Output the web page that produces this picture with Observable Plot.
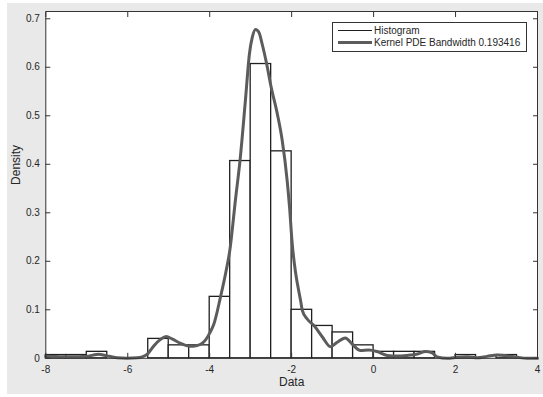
<!DOCTYPE html>
<html><head><meta charset="utf-8">
<script src="https://cdn.jsdelivr.net/npm/d3@7"></script>
<script src="https://cdn.jsdelivr.net/npm/@observablehq/plot@0.6"></script>
<style>
html,body{margin:0;padding:0;background:#fff;}
#wrap{position:relative;width:543px;height:397px;overflow:hidden;}
#bg{position:absolute;left:7px;top:3px;width:536px;height:391px;background:#e9e9e9;}
#chart{position:absolute;left:0;top:0;}
#legend{position:absolute;left:331.5px;top:22px;width:193px;height:28px;border:1px solid #333;background:#fff;font:10px "Liberation Sans",Arial,sans-serif;color:#262626;}
.ln{position:absolute;left:5px;width:34.5px;}
.lt{position:absolute;left:41.5px;line-height:12px;white-space:nowrap;}
</style>
</head><body>
<div id="wrap">
  <div id="bg"></div>
  <div id="chart"></div>
  <div id="legend">
    <div class="ln" style="top:7px;height:1.3px;background:#1f1f1f;"></div>
    <div class="lt" style="top:1.7px;">Histogram</div>
    <div class="ln" style="top:18px;height:3px;background:#5c5c5c;"></div>
    <div class="lt" style="top:13.5px;">Kernel PDE Bandwidth 0.193416</div>
  </div>
</div>
<script>
// Histogram bins (bin edges and density)
const binLo = [-8, -7.5, -7, -6.5, -6, -5.5, -5, -4.5, -4, -3.5, -3, -2.5, -2, -1.5, -1, -0.5, 0, 0.5, 1, 1.5, 2, 2.5, 3];
const binHi = [-7.5, -7, -6.5, -6, -5.5, -5, -4.5, -4, -3.5, -3, -2.5, -2, -1.5, -1, -0.5, 0, 0.5, 1, 1.5, 2, 2.5, 3, 3.5];
const binDensity = [0.0067, 0.0067, 0.0133, 0, 0, 0.04, 0.0267, 0.0267, 0.1267, 0.4067, 0.6067, 0.4267, 0.1, 0.0667, 0.0533, 0.0267, 0.0133, 0.0133, 0.0133, 0, 0.0067, 0, 0.0067];

// Kernel density curve
const kdeX = [-8.0, -7.75, -7.48, -7.2, -6.99, -6.85, -6.71, -6.6, -6.5, -6.26, -6.02, -5.77, -5.65, -5.53, -5.45, -5.36, -5.2, -5.06, -4.92, -4.71, -4.55, -4.4, -4.22, -4.1, -4.0, -3.9, -3.74, -3.6, -3.51, -3.37, -3.26, -3.13, -3.03, -2.96, -2.88, -2.8, -2.72, -2.61, -2.5, -2.35, -2.23, -2.11, -2.05, -1.99, -1.91, -1.86, -1.78, -1.74, -1.62, -1.46, -1.25, -1.05, -0.89, -0.69, -0.53, -0.32, -0.12, 0.08, 0.33, 0.58, 0.82, 1.07, 1.27, 1.43, 1.55, 1.8, 2.04, 2.29, 2.53, 2.77, 3.02, 3.26, 3.51, 3.75, 4.0];
const kdeY = [0.004, 0.0035, 0.003, 0.003, 0.004, 0.0065, 0.0085, 0.007, 0.005, 0.001, 0.0, 0.001, 0.003, 0.008, 0.016, 0.026, 0.039, 0.045, 0.040, 0.031, 0.026, 0.025, 0.029, 0.038, 0.052, 0.070, 0.125, 0.18, 0.222, 0.328, 0.408, 0.53, 0.628, 0.662, 0.678, 0.672, 0.648, 0.607, 0.559, 0.504, 0.449, 0.367, 0.31, 0.24, 0.18, 0.154, 0.118, 0.099, 0.081, 0.068, 0.044, 0.024, 0.033, 0.042, 0.030, 0.016, 0.017, 0.014, 0.006, 0.0045, 0.006, 0.009, 0.014, 0.011, 0.003, 0.0, 0.002, 0.003, 0.001, 0.004, 0.007, 0.005, 0.002, 0.0, 0.0];

const xTicks = [-8, -6, -4, -2, 0, 2, 4];
const yTicks = [0, 0.1, 0.2, 0.3, 0.4, 0.5, 0.6, 0.7];
const xTitle = "Data";
const yTitle = "Density";

const bins = binLo.map((lo, i) => ({lo, hi: binHi[i], d: binDensity[i]}));
const kde = kdeX.map((x, i) => ({x, y: kdeY[i]}));
const axisColor = "#262626";

const chart = Plot.plot({
  width: 543,
  height: 397,
  marginLeft: 45.3,
  marginRight: 6,
  marginTop: 11,
  marginBottom: 39.2,
  style: {background: "transparent", fontFamily: "'Liberation Sans', Arial, sans-serif", fontSize: "10px", color: axisColor},
  x: {domain: [-8, 4]},
  y: {domain: [0, 0.715]},
  marks: [
    Plot.frame({fill: "white", stroke: null}),
    Plot.rectY(bins, {x1: "lo", x2: "hi", y: "d", fill: "white", stroke: "#1f1f1f", strokeWidth: 1.3}),
    Plot.line(kde, {x: "x", y: "y", stroke: "#5c5c5c", strokeWidth: 3, curve: "monotone-x"}),
    Plot.frame({stroke: "#333", strokeWidth: 1}),
    Plot.axisX({ticks: xTicks, tickSize: 0, tickPadding: 7.5, tickFormat: d => String(d), label: null}),
    Plot.axisX({ticks: xTicks, tickSize: -5, fill: "none", stroke: "#333", label: null}),
    Plot.axisX({anchor: "top", ticks: xTicks, tickSize: -5, fill: "none", stroke: "#333", label: null}),
    Plot.axisY({ticks: yTicks, tickSize: 0, tickPadding: 6, tickFormat: d => String(d), label: null}),
    Plot.axisY({ticks: yTicks, tickSize: -5, fill: "none", stroke: "#333", label: null}),
    Plot.axisY({anchor: "right", ticks: yTicks, tickSize: -5, fill: "none", stroke: "#333", label: null}),
    Plot.text([xTitle], {frameAnchor: "bottom", dy: 27.5, fontSize: 12, fill: axisColor}),
    Plot.text([yTitle], {frameAnchor: "left", dx: -30, rotate: -90, fontSize: 12, fill: axisColor})
  ]
});
document.getElementById("chart").appendChild(chart);
</script>
</body></html>
